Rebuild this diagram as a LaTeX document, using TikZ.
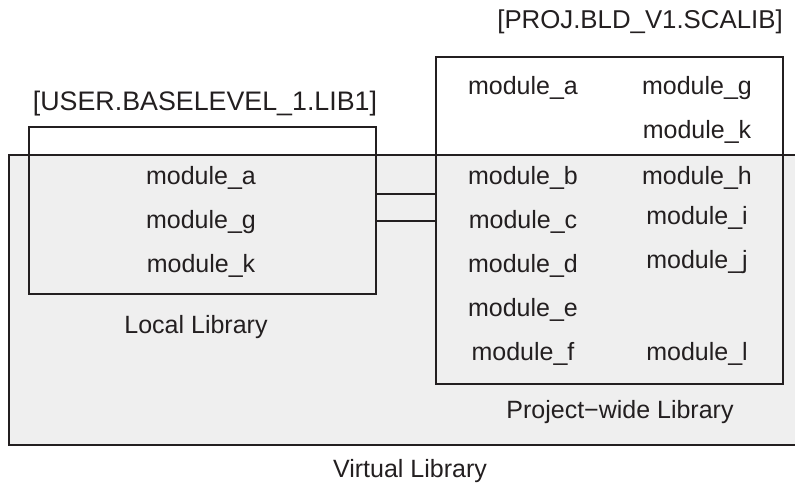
\documentclass[tikz,border=0pt]{standalone}
\usepackage{fontspec}
\setmainfont{Liberation Sans}
\definecolor{ink}{HTML}{231F20}
\definecolor{bgfill}{HTML}{EFEFEF}
\begin{document}
\begin{tikzpicture}[x=1pt,y=-1pt,
  box/.style={draw=ink, line width=2.5pt, inner sep=0pt, outer sep=0pt},
  conn/.style={draw=ink, line width=2.5pt},
  lbl/.style={font=\fontsize{25}{30}\selectfont, text=ink, inner sep=0pt, anchor=base}]
\clip (0,0) rectangle (795,484);
% virtual library (extends past right edge)
\node[box, fill=bgfill, minimum width=791pt, minimum height=290pt] (virtual) at (404.5,300) {};
% local library
\node[box, minimum width=347pt, minimum height=167pt] (local) at (202.5,210.5) {};
% project-wide library
\node[box, minimum width=347pt, minimum height=327pt] (project) at (609.5,220.5) {};
% connector
\coordinate (r1) at (0,194);
\coordinate (r2) at (0,221);
\draw[conn] (local.east |- r1) -- (project.west |- r1);
\draw[conn] (local.east |- r2) -- (project.west |- r2);
% titles
\node[lbl, font=\fontsize{25.8}{30}\selectfont] (tproj) at (640,29) {[PROJ.BLD\_V1.SCALIB]};
\node[lbl, font=\fontsize{26.8}{30}\selectfont] (tuser) at (205,111) {[USER.BASELEVEL\_1.LIB1]};
% local modules
\node[lbl] (la) at (201,184) {module\_a};
\node[lbl] (lg) at (201,228) {module\_g};
\node[lbl] (lk) at (201,272) {module\_k};
\node[lbl] (tlocal) at (196,333) {Local Library};
% project modules col 1
\node[lbl] (pa) at (523,95) {module\_a};
\node[lbl] (pb) at (523,184) {module\_b};
\node[lbl] (pc) at (523,228) {module\_c};
\node[lbl] (pd) at (523,272) {module\_d};
\node[lbl] (pe) at (523,316) {module\_e};
\node[lbl] (pf) at (523,360) {module\_f};
% project modules col 2
\node[lbl] (pg) at (697,95) {module\_g};
\node[lbl] (pk) at (697,139) {module\_k};
\node[lbl] (ph) at (697,184) {module\_h};
\node[lbl] (pi) at (697,224) {module\_i};
\node[lbl] (pj) at (697,268) {module\_j};
\node[lbl] (pl) at (697,360) {module\_l};
\node[lbl] (tproject) at (620,418) {Project−wide Library};
\node[lbl] (tvirtual) at (410,477) {Virtual Library};
\end{tikzpicture}
\end{document}
